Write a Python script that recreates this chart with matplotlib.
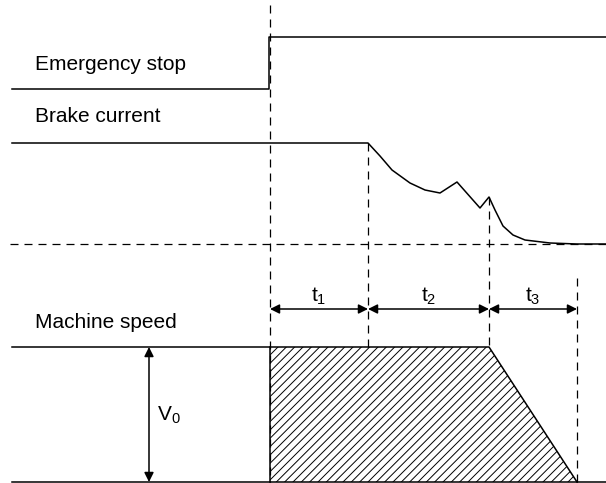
import numpy as np
import matplotlib.pyplot as plt
from matplotlib.patches import Polygon

plt.rcParams['font.family'] = ['Liberation Sans', 'DejaVu Sans']
plt.rcParams['mathtext.fontset'] = 'custom'
plt.rcParams['mathtext.rm'] = 'Liberation Sans'
plt.rcParams['hatch.linewidth'] = 0.7

## Signal traces (diagram units = pixels, y grows downward)
estop_x = [12, 269, 269, 606]
estop_y = [89, 89, 37, 37]

brake_x = [12, 368, 380, 392, 410, 425, 440, 457, 480, 489, 495, 503, 513, 525, 550, 577, 606]
brake_y = [143, 143, 156, 170, 183, 190, 193, 182, 208, 197, 210, 226, 235, 240, 243, 244, 244]

speed_x = [12, 489, 577]
speed_y = [347, 347, 482]
speed_fill_x = [270, 270, 489, 577]
speed_fill_y = [482, 347, 347, 482]

## Time markers
t_edges = [270, 368, 489, 577]
t_labels = [r'$\mathrm{t_1}$', r'$\mathrm{t_2}$', r'$\mathrm{t_3}$']
vline_top = [5, 143, 197, 278]
vline_bottom = [482, 347, 347, 482]

labels = ['Emergency stop', 'Brake current', 'Machine speed']
label_y = [64, 117, 322]

fig = plt.figure(figsize=(6.06, 4.83), dpi=100)
ax = fig.add_axes([0, 0, 1, 1])
ax.set_xlim(0, 606)
ax.set_ylim(483, 0)
ax.axis('off')

dash = (0, (6.4, 4.8))
lw = 1.1

ax.plot(estop_x, estop_y, color='black', lw=lw)
ax.plot(brake_x, brake_y, color='black', lw=lw)
ax.plot(speed_x, speed_y, color='black', lw=lw)
ax.plot([12, 606], [482, 482], color='black', lw=lw)
ax.plot([270, 270], [347, 482], color='black', lw=lw)

ax.add_patch(Polygon(list(zip(speed_fill_x, speed_fill_y)), closed=True,
                     facecolor='none', edgecolor='black', lw=0, hatch='////'))

# dashed guides
ax.plot([10, 606], [244, 244], color='black', lw=0.9, linestyle=dash)
for x, y0, y1 in zip(t_edges, vline_top, vline_bottom):
    ax.plot([x, x], [y0, y1], color='black', lw=0.9, linestyle=dash)

# time interval arrows
for i in range(3):
    ax.annotate('', xy=(t_edges[i + 1], 309), xytext=(t_edges[i], 309),
                arrowprops=dict(arrowstyle='<|-|>', color='black', lw=1.1,
                                mutation_scale=14, shrinkA=0, shrinkB=0))
    ax.text((t_edges[i] + t_edges[i + 1]) / 2, 296, t_labels[i], fontsize=15,
            ha='center', va='center')

# V0 arrow
ax.annotate('', xy=(149, 482), xytext=(149, 347),
            arrowprops=dict(arrowstyle='<|-|>', color='black', lw=1.1,
                            mutation_scale=14, shrinkA=0, shrinkB=0))
ax.text(157, 415, r'$\mathrm{V_0}$', fontsize=15, ha='left', va='center')

for txt, y in zip(labels, label_y):
    ax.text(35, y, txt, fontsize=15, ha='left', va='center')

fig.savefig('out.png', dpi=100)
